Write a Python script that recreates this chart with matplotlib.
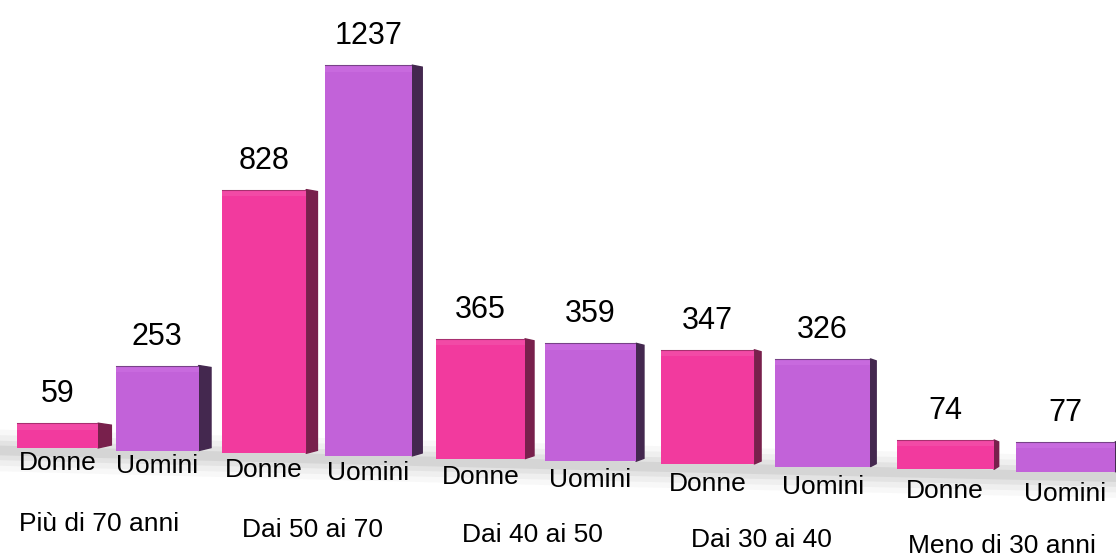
import numpy as np
import matplotlib
matplotlib.use("Agg")
import matplotlib.pyplot as plt
from matplotlib.patches import Polygon

# data
groups = ["Più di 70 anni", "Dai 50 ai 70", "Dai 40 ai 50", "Dai 30 ai 40", "Meno di 30 anni"]
series = ["Donne", "Uomini"]
donne = [59, 828, 365, 347, 74]
uomini = [253, 1237, 359, 326, 77]

front_cols = ["#f23a9e", "#c262d9"]
top_cols = ["#f24aa6", "#c86ade"]
side_cols = ["#78204c", "#44284f"]

plt.rcParams['font.family'] = ['Liberation Sans', 'DejaVu Sans']

# perspective: spacing grows slightly to the right
A, B = 203.5, 5.25


def fwd(x):
    return A * x + B * x * x


def inv(p):
    return (-A + np.sqrt(np.maximum(A * A + 4 * B * p, 0))) / (2 * B)


fig = plt.figure(figsize=(11.16, 5.57), dpi=100)
ax = fig.add_axes([0, 0, 1, 1])
ax.set_xscale('function', functions=(fwd, inv))
ax.set_xlim(-0.533, 4.448)
pxu = 0.3107                      # pixels per value unit
ax.set_ylim(-(557 - 449.3) / pxu, 449.3 / pxu)
ax.axis('off')

x = np.arange(len(groups))
tilt = 5.35 / pxu                 # floor drop per group
offs = [-0.245, 0.245]
width = 0.40
cap = 6.5 / pxu                   # rounded top bevel

# soft shadow along the floor
xs = np.linspace(-0.6, 4.6, 50)
for lw, a in [(30, 0.035), (22, 0.05), (14, 0.07), (7, 0.09)]:
    ax.plot(xs, -tilt * xs - 4 / pxu, color='#4a4a4a', lw=lw, alpha=a,
            solid_capstyle='butt', zorder=1)

for s, vals in enumerate([donne, uomini]):
    xpos = x + offs[s]
    bottoms = -tilt * xpos
    bars = ax.bar(xpos, vals, width=width, bottom=bottoms, color=front_cols[s],
                  edgecolor='none', zorder=3)
    for b, v, bot, xc in zip(bars, vals, bottoms, xpos):
        xl = b.get_x()
        xr = xl + b.get_width()
        top = bot + v
        dx = max(13 - 2.2 * xc, 3)
        xr2 = inv(fwd(xr) + dx)
        side = Polygon([(xr, bot), (xr, top + cap), (xr2, top + cap - 2 / pxu),
                        (xr2, bot + 3 / pxu)],
                       closed=True, color=side_cols[s], zorder=2)
        ax.add_patch(side)
        # rounded top edge
        ax.bar(xl, cap, width=b.get_width(), bottom=top, align='edge',
               color=top_cols[s], edgecolor='none', zorder=3)
        ax.plot([xl, xr], [top + cap, top + cap], color=side_cols[s], lw=0.8,
                alpha=0.6, zorder=4)
        ax.annotate(str(v), (b.get_x() + b.get_width() / 2, top + cap),
                    xytext=(0, 14), textcoords='offset pixels',
                    ha='center', va='bottom', fontsize=22, zorder=5)
        ax.annotate(series[s], (b.get_x() + b.get_width() / 2, bot),
                    xytext=(0, -(15 + 1.7 * xc)), textcoords='offset pixels',
                    ha='center', va='center', fontsize=19, zorder=5)

for i, g in enumerate(groups):
    ax.annotate(g, (x[i], -tilt * x[i]), xytext=(-3 if i else -8, -75),
                textcoords='offset pixels', ha='center', va='center', fontsize=19)

fig.savefig("out.png", dpi=100)
